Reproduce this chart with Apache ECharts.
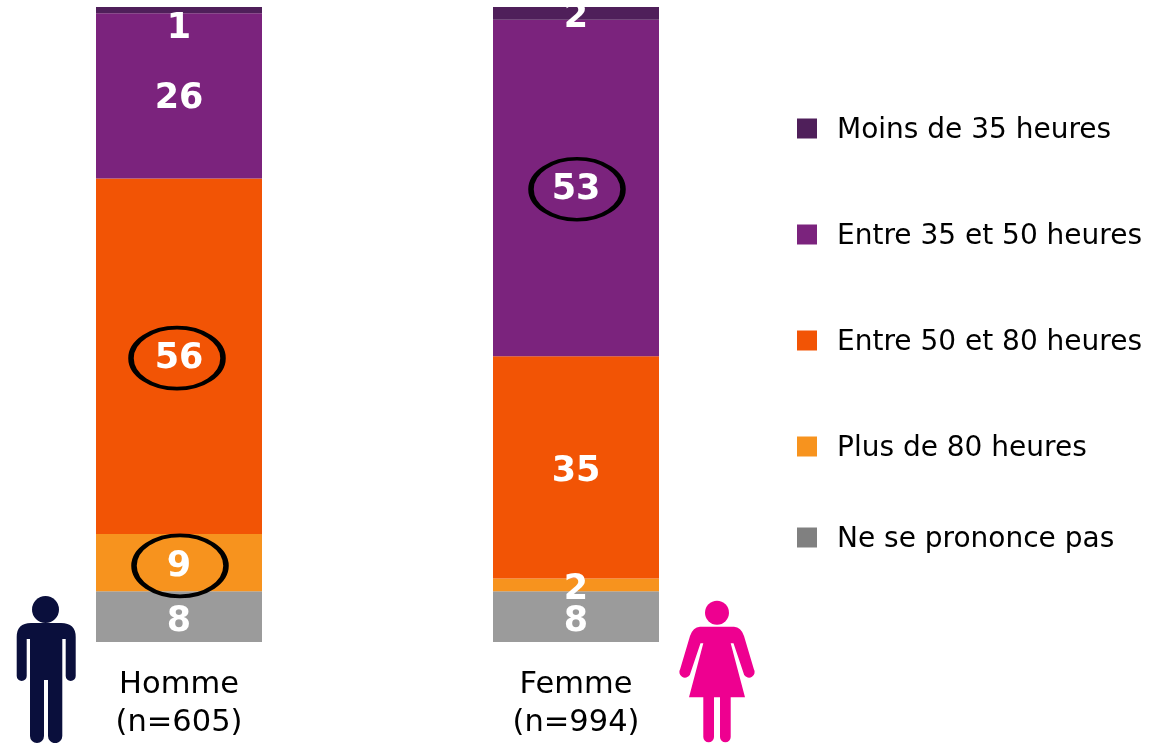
<!DOCTYPE html>
<html>
<head>
<meta charset="utf-8">
<style>
html,body{margin:0;padding:0;background:#fff;}
#chart{width:1152px;height:743px;}
</style>
<script src="https://cdn.jsdelivr.net/npm/echarts@6/dist/echarts.min.js"></script>
</head>
<body>
<div id="chart"></div>
<script>
var categories = ['Homme\n(n=605)', 'Femme\n(n=994)'];
var seriesNames = ['Ne se prononce pas', 'Plus de 80 heures', 'Entre 50 et 80 heures', 'Entre 35 et 50 heures', 'Moins de 35 heures'];
var nonPrononce = [8, 8];
var plus80 = [9, 2];
var entre50et80 = [56, 35];
var entre35et50 = [26, 53];
var moins35 = [1, 2];

var seriesValues = [nonPrononce, plus80, entre50et80, entre35et50, moins35];
var barColors = ['#9b9b9b', '#f7931e', '#f25405', '#7b237d', '#4f1f5a'];
var legendColors = ['#808080', '#f7931e', '#f25405', '#7b237d', '#4f1f5a'];
var legendTops = [526, 435, 329, 223, 117];

// decalage vertical des etiquettes, par serie puis par categorie
var labelShift = [[5, 5], [4, 5], [3, 5], [3, 2], [19, 5]];

var font = '"DejaVu Sans", Verdana, sans-serif';

// valeurs cerclees : [categorie, hauteur sur l'axe, decalage x]
var circled = [[0, 44.7, -2], [0, 12, 1], [1, 71.3, 1]];

var manPath = 'M16.7 637Q16.7 623 31 623H61Q75.7 623 75.7 637V676a5 5 0 0 1-10 0V639H62.3V736a7 7 0 0 1-14.3 0V680H44V736a7 7 0 0 1-14 0V639H26.7V676a5 5 0 0 1-10 0Z';
var womanPath = 'M700 626.7H734Q741 627 744 636L753.8 669a5 5 0 0 1-9.6 6L733.5 643.3H730.7L745 697.3H730.7V737a5.3 5.3 0 0 1-10.7 0V697.3H714V737a5.3 5.3 0 0 1-10.7 0V697.3H689L703.3 643.3H700.5L689.8 675a5 5 0 0 1-9.6-6L690 636Q693 627 700 626.7Z';

echarts.graphic.registerShape('manIcon', echarts.graphic.extendPath(manPath, {}));
echarts.graphic.registerShape('womanIcon', echarts.graphic.extendPath(womanPath, {}));

var series = seriesNames.map(function(name, s){
    return {
        name: name,
        type: 'bar',
        stack: 'total',
        barWidth: 166,
        itemStyle: {color: barColors[s]},
        label: {
            show: true,
            color: '#fff',
            fontFamily: font,
            fontWeight: 'bold',
            fontSize: 35
        },
        data: seriesValues[s].map(function(v, c){
            return {value: v, label: {position: 'inside', offset: [0, labelShift[s][c]]}};
        })
    };
});

series[0].markPoint = {
    silent: true,
    symbol: 'circle',
    symbolSize: [92, 61],
    label: {show: false},
    itemStyle: {color: 'rgba(0,0,0,0)', borderColor: '#000', borderWidth: 4.5},
    data: circled.map(function(p){
        return {coord: [p[0], p[1]], symbolOffset: [p[2], 0]};
    })
};

var legends = seriesNames.map(function(name, s){
    return {
        left: 797,
        top: legendTops[s],
        padding: 0,
        orient: 'vertical',
        selectedMode: false,
        itemWidth: 20,
        itemHeight: 20,
        icon: 'rect',
        formatter: '{t|{name}}',
        textStyle: {
            rich: {
                t: {
                    fontFamily: font,
                    fontSize: 28,
                    color: '#000',
                    padding: [5, 0, 0, 15]
                }
            }
        },
        data: [{name: name, itemStyle: {color: legendColors[s]}}]
    };
});

var myChart = echarts.init(document.getElementById('chart'));
myChart.setOption({
    animation: false,
    backgroundColor: '#fff',
    grid: {left: -19.5, width: 794, top: 7, bottom: 101, outerBoundsMode: 'none'},
    legend: legends,
    xAxis: {
        type: 'category',
        data: categories,
        axisLine: {show: false},
        axisTick: {show: false},
        axisLabel: {
            fontFamily: font,
            fontSize: 30.5,
            color: '#000',
            lineHeight: 38,
            margin: 24
        }
    },
    yAxis: {
        type: 'value',
        min: 0,
        max: 100,
        show: false
    },
    series: series,
    graphic: [
        {type: 'circle', shape: {cx: 45.5, cy: 609.5, r: 13.5}, style: {fill: '#0a0f3c'}},
        {type: 'manIcon', style: {fill: '#0a0f3c'}},
        {type: 'circle', shape: {cx: 717, cy: 612.7, r: 12}, style: {fill: '#ee0090'}},
        {type: 'womanIcon', style: {fill: '#ee0090'}}
    ]
});
</script>
</body>
</html>
